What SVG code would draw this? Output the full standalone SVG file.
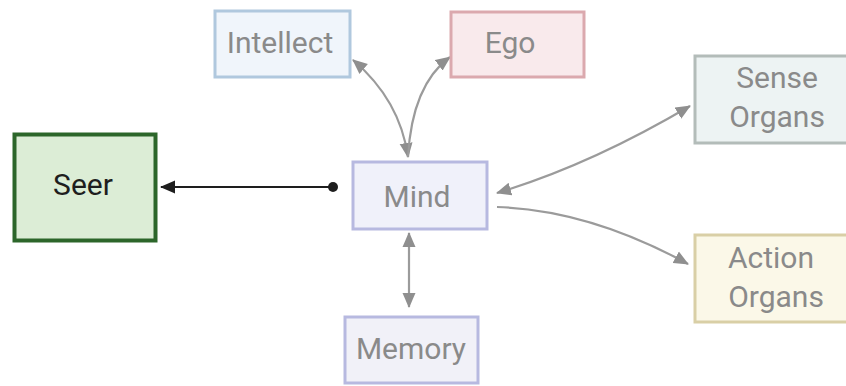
<svg xmlns="http://www.w3.org/2000/svg" width="846" height="386" viewBox="0 0 846 386">
<style>
.box{stroke-width:3}
.t{font-family:Roboto,"Liberation Sans",sans-serif;font-size:30px;fill:#8a8a8a;text-anchor:middle}
.c{fill:none;stroke:#9b9b9b;stroke-width:2.2}
</style>
<defs>
<marker id="ag" markerUnits="userSpaceOnUse" markerWidth="16" markerHeight="14" refX="14" refY="6.5" orient="auto-start-reverse" viewBox="0 0 16 13">
<path d="M0,0 L15,6.5 L0,13 z" fill="#8f8f8f"/>
</marker>
<marker id="ab" markerUnits="userSpaceOnUse" markerWidth="16" markerHeight="14" refX="14" refY="6.5" orient="auto" viewBox="0 0 16 13">
<path d="M0,0 L15,6.5 L0,13 z" fill="#1e1e1e"/>
</marker>
</defs>
<rect width="846" height="386" fill="#ffffff"/>
<g id="connectors">
<line x1="333" y1="187" x2="161" y2="187" stroke="#1e1e1e" stroke-width="2" marker-end="url(#ab)"/>
<circle cx="333" cy="187" r="5" fill="#1e1e1e"/>
<path class="c" d="M353,60 Q400,100 408,157" marker-start="url(#ag)" marker-end="url(#ag)"/>
<path class="c" d="M450,57 Q412,85 408,157"  marker-start="url(#ag)"/>
<path class="c" d="M497,193 Q590,165 690,106" marker-start="url(#ag)" marker-end="url(#ag)"/>
<path class="c" d="M497,207 Q590,210 688,264" marker-end="url(#ag)"/>
<line class="c" x1="409" y1="233" x2="409" y2="307" marker-start="url(#ag)" marker-end="url(#ag)"/>
</g>
<g id="seer">
<rect x="14.5" y="134.5" width="141" height="106" fill="#dcedd6" stroke="#2c662a" stroke-width="4"/>
<text x="83" y="195" class="t" style="fill:#1e1e1e">Seer</text>
</g>
<g id="intellect">
<rect class="box" x="215" y="11" width="135" height="66" fill="#f0f5fb" stroke="#b0c8de"/>
<text x="280" y="53" class="t">Intellect</text>
</g>
<g id="ego">
<rect class="box" x="451" y="12" width="133" height="65" fill="#f9eaec" stroke="#dba9ae"/>
<text x="510" y="53" class="t">Ego</text>
</g>
<g id="sense">
<rect class="box" x="695" y="56" width="153" height="87" fill="#edf3f3" stroke="#b3bcb9"/>
<text x="777" y="88" class="t">Sense</text>
<text x="777" y="127" class="t">Organs</text>
</g>
<g id="mind">
<rect class="box" x="353" y="162" width="134" height="67" fill="#f0f1fa" stroke="#b7b9e0"/>
<text x="417" y="207" class="t">Mind</text>
</g>
<g id="action">
<rect class="box" x="695" y="235" width="153" height="87" fill="#fbf8e8" stroke="#d9cfa6"/>
<text x="771" y="268" class="t">Action</text>
<text x="776" y="307" class="t">Organs</text>
</g>
<g id="memory">
<rect class="box" x="345" y="317" width="133" height="66" fill="#f1f1f8" stroke="#b7b9e0"/>
<text x="411" y="359" class="t">Memory</text>
</g>
</svg>
